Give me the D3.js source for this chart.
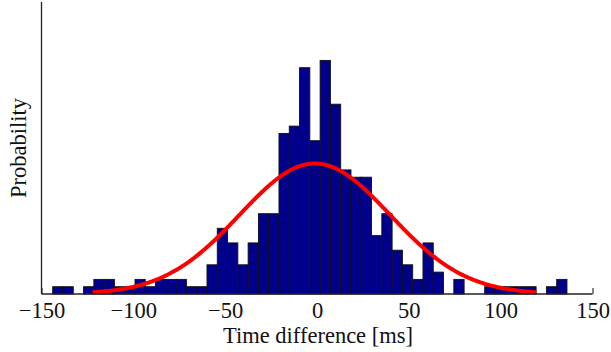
<!DOCTYPE html>
<html>
<head>
<meta charset="utf-8">
<script src="https://cdn.jsdelivr.net/npm/d3@7"></script>
<style>
  html, body { margin: 0; padding: 0; background: #fff; }
  svg { display: block; }
  text { font-family: "Liberation Serif", "Times New Roman", serif; fill: #111; }
</style>
</head>
<body>
<svg id="chart" width="611" height="352"></svg>
<script>
// ---- data ----
const binStart = -143.9;   // ms, left edge of first bin
const binWidth = 5.6;      // ms
const counts = [1, 1, 0, 1, 2, 2, 1, 1, 2, 1,
                2, 2, 2, 1, 1, 4, 9, 7, 4, 7,
                11, 11, 22, 23, 31, 21, 32, 26, 17, 16,
                16, 8, 11, 6, 4, 2, 7, 3, 0, 2,
                0, 0, 1, 1, 1, 1, 1, 0, 1, 2];
const fitMean = -1.2;      // ms, fitted normal
const fitSigma = 41;       // ms
const xTicks = [-150, -100, -50, 0, 50, 100, 150];
const xDomain = [-150, 150];
const yDomain = [0, 40];
const xLabel = "Time difference [ms]";
const yLabel = "Probability";

// ---- layout ----
const svg = d3.select("#chart");
const mLeft = 41.5, mRight = 592.5, mTop = 2, mBottom = 294;
const x = d3.scaleLinear().domain(xDomain).range([mLeft, mRight]);
const y = d3.scaleLinear().domain(yDomain).range([mBottom, mTop]);

// ticks (inward, under bars)
const xAxis = d3.axisBottom(x).tickValues(xTicks).tickSizeInner(-6).tickSizeOuter(0)
  .tickPadding(14).tickFormat(d3.format("d"));
const gx = svg.append("g").attr("transform", `translate(0,${mBottom})`).call(xAxis);
gx.select(".domain").remove();
gx.selectAll(".tick line").attr("stroke", "#333").attr("stroke-width", 1.2);
gx.selectAll(".tick text")
  .attr("font-family", "Liberation Serif, serif")
  .attr("font-size", 22.5).attr("fill", "#111")
  .attr("dy", null).attr("y", 24);

// bars
const bins = counts.map((c, i) => ({ x0: binStart + i * binWidth, x1: binStart + (i + 1) * binWidth, c }));
svg.append("g").selectAll("rect").data(bins.filter(b => b.c > 0)).join("rect")
  .attr("x", d => x(d.x0))
  .attr("width", d => x(d.x1) - x(d.x0))
  .attr("y", d => y(d.c))
  .attr("height", d => y(0) - y(d.c))
  .attr("fill", "#00008a")
  .attr("stroke", "#111")
  .attr("stroke-width", 0.9);

// fitted normal curve
const total = d3.sum(counts);
const pdf = t => total * binWidth / (fitSigma * Math.sqrt(2 * Math.PI)) *
  Math.exp(-((t - fitMean) ** 2) / (2 * fitSigma * fitSigma));
const xs = d3.range(fitMean - 2.95 * fitSigma, fitMean + 2.95 * fitSigma + 0.001, 0.5);
svg.append("path")
  .datum(xs)
  .attr("fill", "none")
  .attr("stroke", "#ff0000")
  .attr("stroke-width", 4)
  .attr("d", d3.line().x(t => x(t)).y(t => y(pdf(t))));

// axis lines
svg.append("line").attr("x1", mLeft).attr("x2", mLeft).attr("y1", mTop).attr("y2", mBottom)
  .attr("stroke", "#222").attr("stroke-width", 1.3);
svg.append("line").attr("x1", mLeft).attr("x2", mRight).attr("y1", mBottom).attr("y2", mBottom)
  .attr("stroke", "#222").attr("stroke-width", 1.3);

// labels
svg.append("text")
  .attr("x", (mLeft + mRight) / 2 + 1).attr("y", 343)
  .attr("text-anchor", "middle").attr("font-size", 22.5)
  .text(xLabel);
svg.append("text")
  .attr("transform", `translate(26,148) rotate(-90)`)
  .attr("text-anchor", "middle").attr("font-size", 22.5)
  .text(yLabel);
</script>
</body>
</html>
